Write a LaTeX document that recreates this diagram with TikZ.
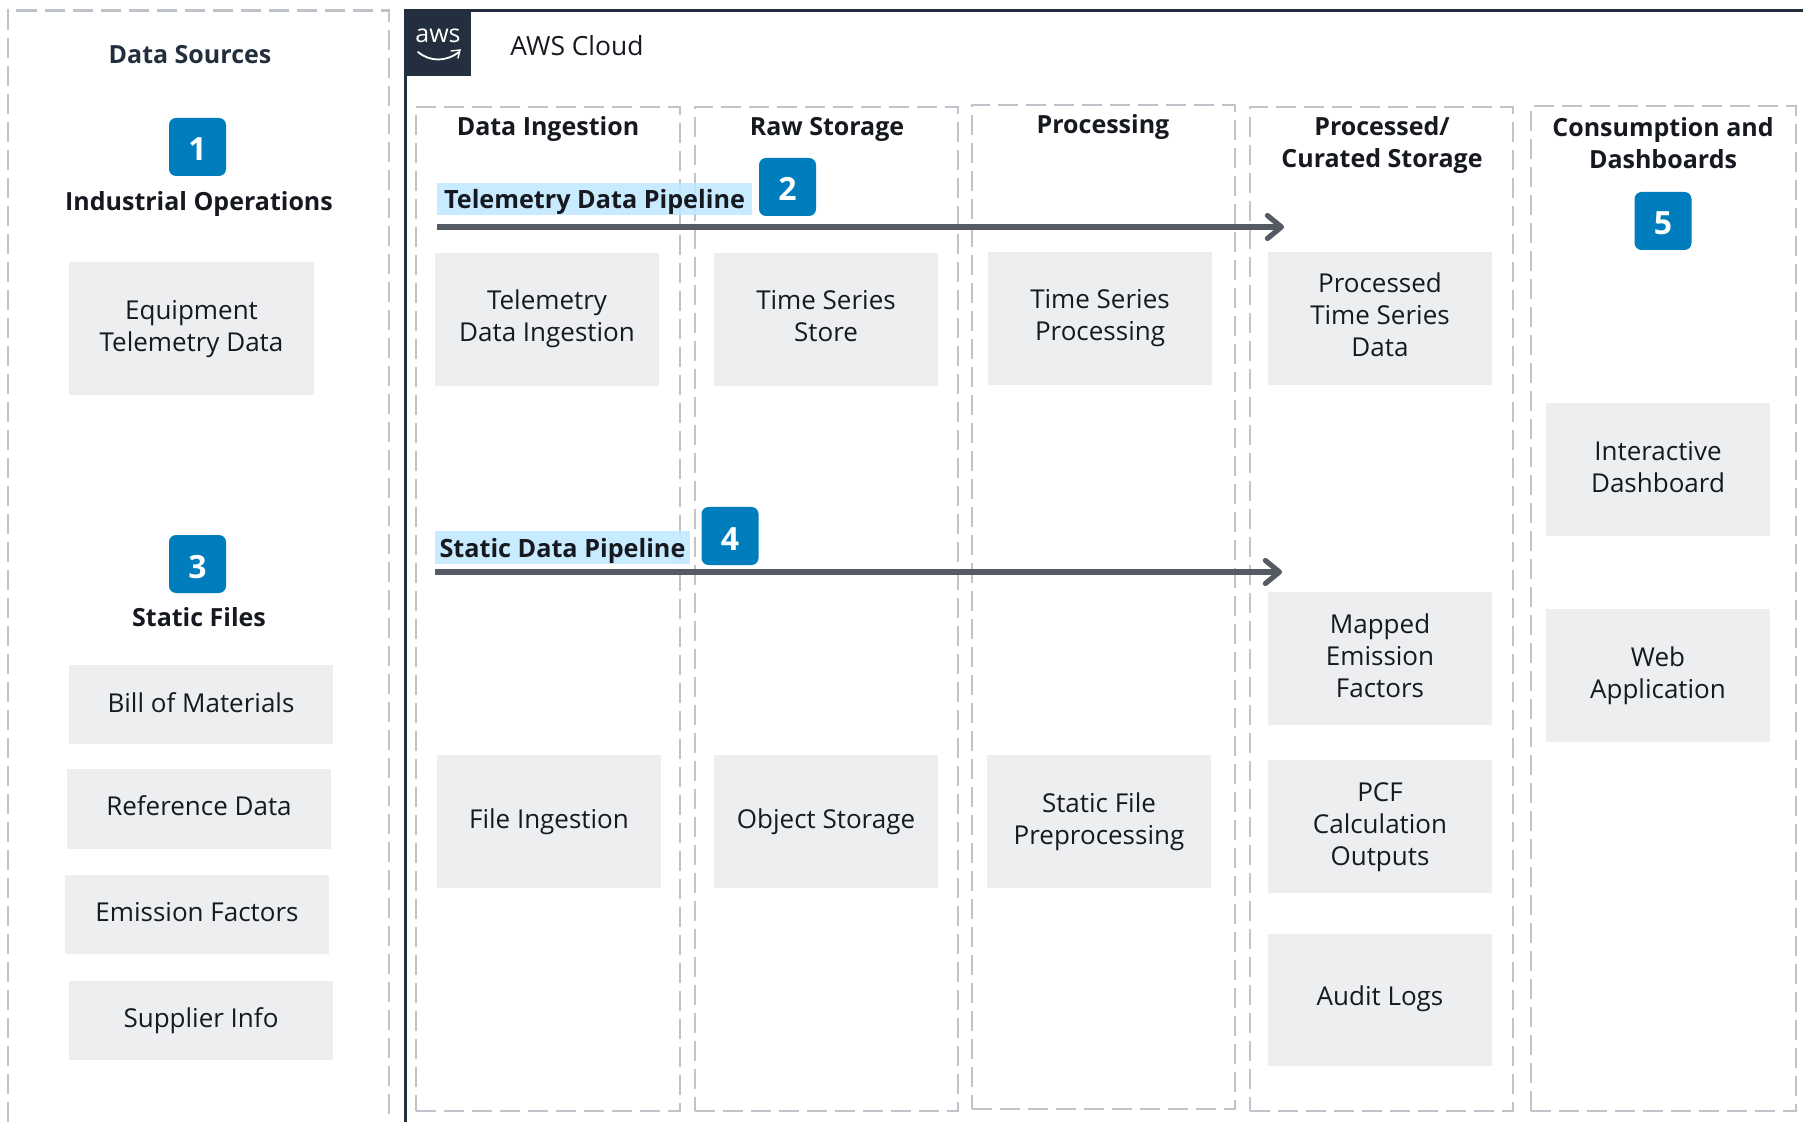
\documentclass[tikz,border=0pt]{standalone}
\usepackage{fontspec}
\setmainfont{Open Sans}
\usetikzlibrary{arrows.meta}
\definecolor{awsdark}{HTML}{232F3E}
\definecolor{dashgrey}{HTML}{BFC4CB}
\definecolor{boxgrey}{HTML}{EDEEF0}
\definecolor{badgeblue}{HTML}{007DBC}
\definecolor{hilite}{HTML}{BFE8FF}
\definecolor{flowgrey}{HTML}{545B64}
\definecolor{inkc}{HTML}{16191F}
\newcommand{\rbox}[7][]{\node[#2,minimum width={(#5-#3)*0.5pt},minimum height={(#6-#4)*0.5pt},#1] (#7) at ({(#3+#5)/2},{(#4+#6)/2}) {};}
\newcommand{\tbox}[7]{\node[greybox,minimum width={(#4-#2)*0.5pt},minimum height={(#5-#3)*0.5pt}] (#1) at ({(#2+#4)/2},{(#3+#5)/2}) {};
  \node[bodytext,yshift=#6*-0.5pt] (#1text) at (#1.center) {#7};}
\tikzset{
  x=0.5pt,y=-0.5pt,
  panel/.style={draw=dashgrey,line width=1.45pt,dash pattern=on 10pt off 4pt,inner sep=0pt},
  greybox/.style={fill=boxgrey,inner sep=0pt},
  bodytext/.style={inner sep=0pt,align=center,font=\bodyf,text=inkc},
  badge/.style={fill=badgeblue,rounded corners=3.5pt,inner sep=0pt,minimum width=28.5pt,minimum height=29pt,text=white,font=\badgef,text height=14pt,text depth=0pt},
  htitle/.style={inner sep=0pt,align=center,font=\headf,text=inkc},
  hilitebox/.style={fill=hilite,inner sep=0pt,font=\fontsize{12.6}{16}\selectfont\bfseries,text=inkc,text height=12.8pt,text depth=3pt},
  flow/.style={draw=flowgrey,line width=2.6pt,-{Straight Barb[length=7pt,width=11.5pt,round]}},
}
\newcommand{\bodyf}{\fontsize{13}{16}\selectfont}
\newcommand{\headf}{\fontsize{12.5}{16}\selectfont\bfseries}
\newcommand{\badgef}{\fontsize{16}{18}\selectfont\bfseries}
\begin{document}
\begin{tikzpicture}
\useasboundingbox[fill=white] (0,0) rectangle (1803,1122);
% left panel, open at the bottom
\draw[dashgrey,line width=1.45pt,dash pattern=on 10pt off 4pt] (8,1122) -- (8,10.5) -- (389,10.5) -- (389,1122);
% cloud frame
\draw[awsdark,line width=1.5pt] (405,1122) -- (405,11) -- (1803,11);
\fill[awsdark] (405,11) rectangle (471,76);
\node[inner sep=0pt,text=white,font=\fontsize{12.5}{13}\selectfont] (awslogo) at (438,36) {aws};
\draw[white,line width=0.9pt,line cap=round] (418,52) .. controls (430,62) and (446,62) .. (459,52);
\draw[white,line width=0.7pt,line cap=round] (451,51) -- (460,50) -- (458,58);
\node[inner sep=0pt,anchor=west,font=\fontsize{13.2}{16}\selectfont,text=inkc] (cloudlabel) at (510,46) {AWS Cloud};
% columns
\rbox{panel}{416}{107}{680}{1111}{colA}
\rbox{panel}{695}{107}{958}{1111}{colB}
\rbox{panel}{972}{105}{1235}{1109}{colC}
\rbox{panel}{1250}{107}{1513}{1111}{colD}
\rbox{panel}{1531}{106}{1796}{1111}{colE}
% titles
\node[htitle,text=awsdark] (tSources) at (190,55) {Data Sources};
\node[htitle] (tIndustrial) at (199,204) {Industrial Operations};
\node[htitle] (tStatic) at (199,617) {Static Files};
\node[htitle] (tIngest) at (548,129) {Data Ingestion};
\node[htitle] (tRaw) at (827,129) {Raw Storage};
\node[htitle] (tProc) at (1103,127) {Processing};
\node[htitle] (tCurated) at (1382,145) {Processed/\\Curated Storage};
\node[htitle] (tConsume) at (1663,143) {Consumption and\\Dashboards};
% grey boxes
\tbox{equip}{69}{262}{314}{395}{1}{Equipment\\Telemetry Data}
\tbox{bom}{69}{665}{333}{744}{-2}{Bill of Materials}
\tbox{refdata}{67}{769}{331}{849}{-3}{Reference Data}
\tbox{emis}{65}{875}{329}{954}{-2}{Emission Factors}
\tbox{supp}{69}{981}{333}{1060}{0}{Supplier Info}
\tbox{telin}{435}{253}{659}{386}{-1}{Telemetry\\Data Ingestion}
\tbox{tsstore}{714}{253}{938}{386}{-3}{Time Series\\Store}
\tbox{tsproc}{988}{252}{1212}{385}{0}{Time Series\\Processing}
\tbox{procd}{1268}{252}{1492}{385}{-4}{Processed\\Time Series\\Data}
\tbox{mapped}{1268}{592}{1492}{725}{-3}{Mapped\\Emission\\Factors}
\tbox{pcf}{1268}{760}{1492}{893}{1}{PCF\\Calculation\\Outputs}
\tbox{audit}{1268}{934}{1492}{1066}{-1}{Audit Logs}
\tbox{fileing}{437}{755}{661}{888}{0}{File Ingestion}
\tbox{objst}{714}{755}{938}{888}{0}{Object Storage}
\tbox{statp}{987}{755}{1211}{888}{0}{Static File\\Preprocessing}
\tbox{dash}{1546}{403}{1770}{536}{-2}{Interactive\\Dashboard}
\tbox{webapp}{1546}{609}{1770}{742}{0}{Web\\Application}
% pipeline labels
\node[hilitebox,fill opacity=0.85,text opacity=1,minimum width=157.5pt,minimum height=16pt] (pipeT) at (594.5,199) {Telemetry Data Pipeline};
\node[hilitebox,fill opacity=0.85,text opacity=1,minimum width=127.5pt,minimum height=16.5pt] (pipeS) at (562.5,547.5) {Static Data Pipeline};
% badges
\node[badge] (b1) at (197.5,147) {1};
\node[badge] (b2) at (787.5,187) {2};
\node[badge] (b3) at (197.5,564) {3};
\node[badge] (b4) at (730,536) {4};
\node[badge] (b5) at (1663,221) {5};
% flows
\coordinate (fT0) at (437,227);
\coordinate (fT1) at (1284,227);
\coordinate (fS0) at (435,572);
\coordinate (fS1) at (1282,572);
\draw[flow] (fT0) -- (fT1);
\draw[flow] (fS0) -- (fS1);
\end{tikzpicture}
\end{document}
